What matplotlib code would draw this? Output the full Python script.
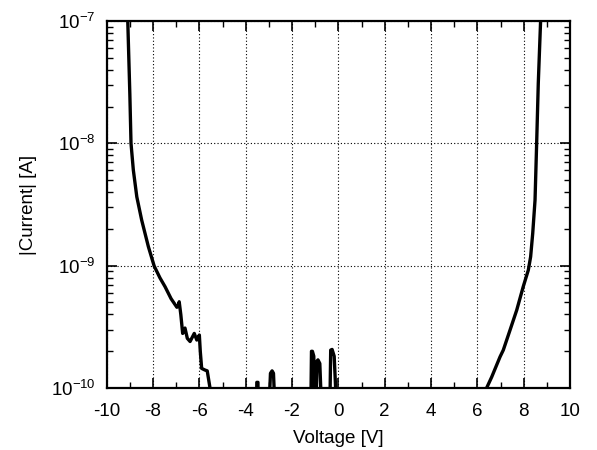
import matplotlib
matplotlib.use("Agg")
import matplotlib.pyplot as plt
from matplotlib.ticker import MultipleLocator, FixedLocator, NullFormatter
import numpy as np

plt.rcParams['font.family'] = ['Liberation Sans', 'DejaVu Sans']
plt.rcParams['mathtext.fontset'] = 'custom'
plt.rcParams['mathtext.rm'] = 'Liberation Sans'
plt.rcParams['mathtext.it'] = 'Liberation Sans:italic'
plt.rcParams['mathtext.bf'] = 'Liberation Sans:bold'

# Data (log10 of |current|)
left_v = [-9.12, -9.09, -9.00, -8.95, -8.85, -8.70, -8.49, -8.20, -7.95, -7.70,
          -7.48, -7.22, -6.97, -6.91, -6.87, -6.80, -6.72, -6.62, -6.52, -6.40,
          -6.22, -6.11, -6.00, -5.96, -5.90, -5.76, -5.66, -5.54, -5.50]
left_log = [-6.8, -7.0, -7.6, -8.0, -8.218, -8.437, -8.627, -8.845, -9.003, -9.10,
            -9.172, -9.27, -9.34, -9.33, -9.295, -9.40, -9.554, -9.51, -9.594, -9.62,
            -9.554, -9.608, -9.567, -9.70, -9.84, -9.853, -9.86, -10.0, -10.2]

mid_v = [-3.53, -3.52, -3.47, -3.46, None,
         -3.00, -2.93, -2.86, -2.80, -2.73, None,
         -1.19, -1.16, -1.12, -1.06, -1.02, None,
         -0.97, -0.92, -0.88, -0.80, -0.72, None,
         -0.37, -0.33, -0.27, -0.18, -0.07]
mid_log = [-10.2, -9.954, -9.954, -10.2, None,
           -10.2, -9.88, -9.86, -9.88, -10.2, None,
           -10.2, -9.70, -9.70, -9.74, -10.2, None,
           -10.2, -9.78, -9.77, -9.80, -10.2, None,
           -10.2, -9.69, -9.685, -9.74, -10.2]

right_v = [6.35, 6.40, 6.62, 6.98, 7.12, 7.41, 7.70, 7.98, 8.20, 8.30, 8.39, 8.49,
           8.56, 8.63, 8.73, 8.76]
right_log = [-10.1, -10.0, -9.91, -9.745, -9.69, -9.527, -9.363, -9.172, -9.036,
             -8.927, -8.736, -8.464, -8.0, -7.51, -7.0, -6.8]

x_ticks = [-10, -8, -6, -4, -2, 0, 2, 4, 6, 8, 10]
y_decades = [-10, -9, -8, -7]
y_tick_labels = [r'$10^{-10}$', r'$10^{-9}$', r'$10^{-8}$', r'$10^{-7}$']

fig = plt.figure(figsize=(5.97, 4.5), dpi=100)
ax = fig.add_axes([0.1787, 0.1378, 0.9548 - 0.1787, 0.9533 - 0.1378])

def to_arr(v, l):
    v = np.array([np.nan if a is None else a for a in v], dtype=float)
    l = np.array([np.nan if a is None else a for a in l], dtype=float)
    return v, 10.0 ** l

for v, l in [(left_v, left_log), (mid_v, mid_log), (right_v, right_log)]:
    xv, yv = to_arr(v, l)
    ax.plot(xv, yv, color='black', lw=2.4, solid_joinstyle='round', solid_capstyle='butt')

ax.set_yscale('log')
ax.set_xlim(-10, 10)
ax.set_ylim(1e-10, 1e-7)
ax.set_xticks(x_ticks)
ax.set_xticklabels([str(t) for t in x_ticks])
ax.xaxis.set_minor_locator(MultipleLocator(1))
ax.yaxis.set_major_locator(FixedLocator([10.0 ** d for d in y_decades]))
ax.set_yticklabels(y_tick_labels)
minor_y = [m * 10.0 ** d for d in y_decades[:-1] for m in range(2, 10)]
ax.yaxis.set_minor_locator(FixedLocator(minor_y))
ax.yaxis.set_minor_formatter(NullFormatter())

ax.tick_params(which='both', direction='in', top=True, right=True, labelsize=13.5, colors='black')
ax.tick_params(axis='x', which='major', pad=11)
ax.tick_params(axis='y', which='major', pad=8)
ax.tick_params(which='major', length=7, width=1.2)
ax.tick_params(which='minor', length=4, width=1.0)
for s in ax.spines.values():
    s.set_linewidth(1.6)

ax.grid(True, which='major', color='black', linestyle=(0, (1, 2)), linewidth=0.8)

ax.set_xlabel('Voltage [V]', fontsize=13.5, labelpad=7)
ax.set_ylabel('|Current| [A]', fontsize=13.5, labelpad=10)

fig.savefig('out.png', dpi=100)
